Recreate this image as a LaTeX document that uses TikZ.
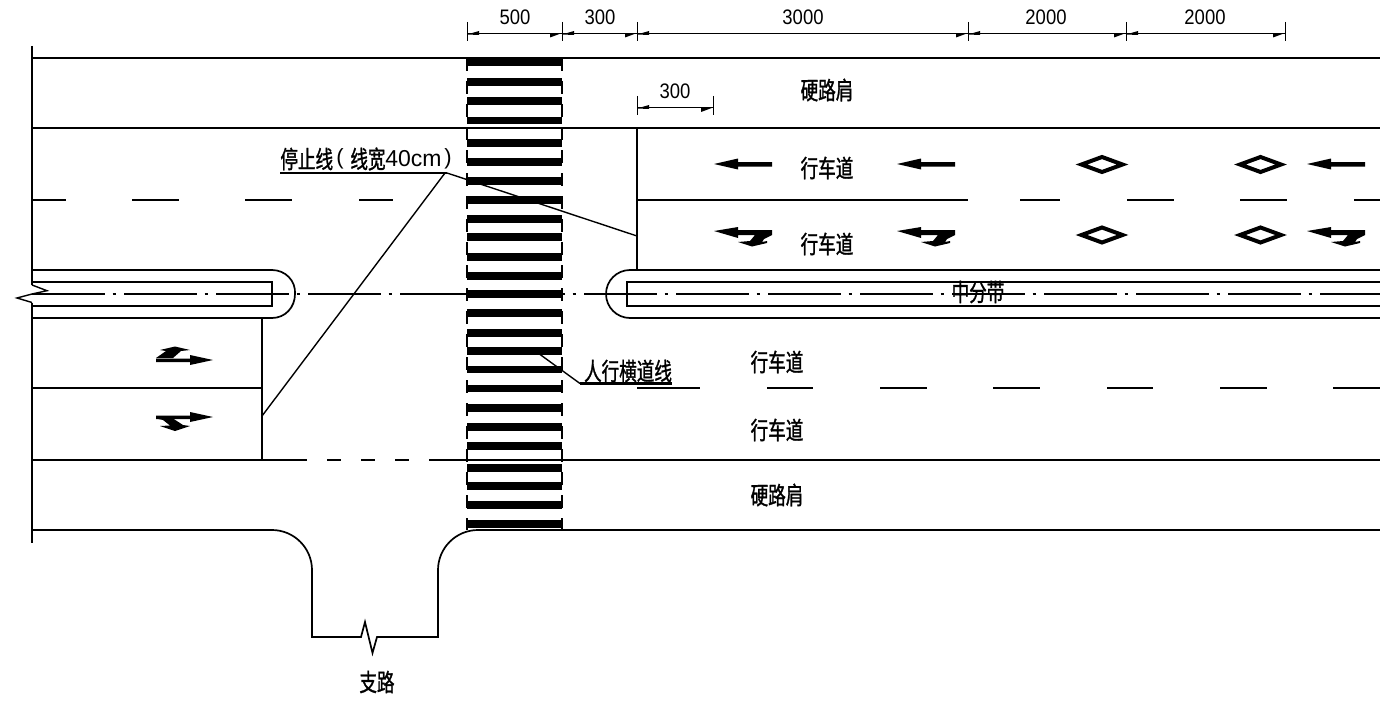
\documentclass[tikz,border=0pt]{standalone}
\usepackage{fontspec}
\setmainfont[FakeStretch=0.88]{Liberation Sans}
\newfontfamily\cjk[FakeStretch=0.72,FakeBold=1.2]{Noto Sans CJK SC}
\newfontfamily\lat{Liberation Sans}
\begin{document}
\begin{tikzpicture}[x=0.5pt,y=-0.5pt,
  ln/.style={line width=0.85pt,black},
  thk/.style={line width=1.1pt,black},
  thinl/.style={line width=0.7pt,black},
  dim/.style={line width=0.5pt,black},
  stripe/.style={line width=3.75pt,black},
  side/.style={line width=0.85pt,black,dash pattern=on 6.5pt off 5pt},
  center/.style={line width=0.6pt,black,dash pattern=on 36.5pt off 3.75pt on 1.75pt off 4pt},
  lab/.style={font=\cjk\fontsize{12.2pt}{12.2pt}\selectfont,inner sep=0pt,text=black},
  num/.style={font=\fontsize{10.5pt}{10.5pt}\selectfont,inner sep=0pt,text=black},
  dia/.style={line width=2pt,black,miter limit=10}]
\useasboundingbox (0,0) rectangle (1380,701);
% ---- arrow macros
\newcommand{\larrow}[2]{\fill[black] (#1,#2) -- ++(24,-5.5) -- ++(0,3.5) -- ++(34,0) -- ++(0,4.5) -- ++(-34,0) -- ++(0,3) -- cycle;}
\newcommand{\ltarrow}[2]{\begin{scope}[shift={(#1,#2)}]\fill[black] (0,0) -- (24,-4) -- (24,-1) -- (58,-1) -- (58,4) -- (50,8) -- (48,11) -- (53,10) -- (53,12) -- (38,15.5) -- (24,11) -- (36,10) -- (41,4) -- (24,4) -- (24,7) -- cycle;\end{scope}}
\newcommand{\rarrowup}[2]{\begin{scope}[shift={(#1,#2)}]\fill[black] (0,0) -- (-23,-5) -- (-23,-1.5) -- (-57,-1.5) -- (-57,2) -- (-23,2) -- (-23,5) -- cycle;
  \fill[black] (-57,-2) -- (-47,-9) -- (-53,-10) -- (-38,-13.5) -- (-23,-10) -- (-32,-9) -- (-40,-2) -- cycle;\end{scope}}
\newcommand{\rarrowdn}[2]{\begin{scope}[shift={(#1,#2)}]\fill[black] (0,0) -- (-23,-5) -- (-23,-1.5) -- (-57,-1.5) -- (-57,2) -- (-23,2) -- (-23,5) -- cycle;
  \fill[black] (-57,1.5) -- (-40,1.5) -- (-30,8) -- (-23,9) -- (-38,14) -- (-53,9) -- (-43,8.5) -- (-50,3) -- cycle;\end{scope}}
\newcommand{\dmd}[2]{\draw[dia] (#1-20.5,#2) -- (#1,#2-7.5) -- (#1+20.5,#2) -- (#1,#2+7.5) -- cycle;}
% ---- road edges
\draw[ln] (32,46) -- (32,285);
\draw[ln] (32,302.5) -- (32,543);
\draw[ln] (32,58) -- (1380,58);
\draw[thk] (32,128) -- (1380,128);
\draw[ln] (32,270) -- (272,270) .. controls (285.25,270) and (296,280.75) .. (295,294) .. controls (295,307.25) and (285.25,318) .. (272,318) -- (32,318);
\draw[ln] (1380,270) -- (630,270) .. controls (616.75,270) and (606,280.75) .. (606,294) .. controls (606,307.25) and (616.75,318) .. (630,318) -- (1380,318);
\draw[thk] (32,282) -- (272,282) -- (272,306) -- (32,306);
\draw[thk] (1380,282) -- (627,282) -- (627,306) -- (1380,306);
% break mark
\draw[thinl] (32,285) -- (47,290.7) -- (32,294) -- (17,298) -- (32,302.5);
% center line
\draw[center] (32,294) -- (1380,294);
% lane lines
\foreach \a/\b in {32/66,132/179,245/292,359/393,638/968,1020/1060,1127/1174,1240/1287,1354/1380} \draw[ln] (\a,200) -- (\b,200);
\foreach \a/\b in {637/700,767/813,880/927,993/1040,1107/1153,1220/1267,1333/1380} \draw[ln] (\a,388) -- (\b,388);
\draw[ln] (32,388) -- (262,388);
% bottom
\draw[thk] (32,460) -- (307,460);
\foreach \a/\b in {327/341,361/375,395/409} \draw[thk] (\a,460) -- (\b,460);
\draw[thk] (429,460) -- (1380,460);
\draw[ln] (32,530) -- (272,530) .. controls (294,530) and (312,548) .. (312,570) -- (312,637) -- (361,637) -- (365,622) -- (372.5,653) -- (377,637) -- (438,637) -- (438,570) .. controls (438,548) and (456,530) .. (478,530) -- (1380,530);
% stop lines
\draw[ln] (637,128) -- (637,270);
\draw[ln] (262,318) -- (262,460);
% crossing stripes
\foreach \y in {62.5,82,101,120.5,143,162,181,200,219,237,257,276,294,313,333,351,369.5,388.5,408,427,446,468,486,505,524}
  \draw[stripe] (467,\y) -- (562,\y);
\foreach \x in {467,562} \draw[side] (\x,58) -- (\x,530);
% leaders
\draw[thinl] (262,416) -- (445,173);
\draw[thk] (280,173) -- (447,173);
\draw[thinl] (447,173) -- (637,236);
\draw[thinl] (538,353) -- (580,383.5);
\draw[thk] (580,383.5) -- (672,383.5);
% dims
\foreach \x in {467,562,637,968,1126,1285} \draw[dim] (\x,22) -- (\x,41);
\draw[dim] (467,33.5) -- (1285,33.5);
\foreach \x in {562,637,968,1126,1285} \fill (\x,33) -- ++(-12,4.5) -- ++(0,-4) -- cycle;
\foreach \x in {467,562,637,968,1126} \fill (\x,34.5) -- ++(12,-3.5) -- ++(0,4) -- cycle;
\draw[dim] (637,96) -- (637,115);
\draw[dim] (713,96) -- (713,115);
\draw[dim] (637,108) -- (713,108);
\fill (637,108.5) -- ++(12,-3.5) -- ++(0,4) -- cycle;
\fill (713,107.5) -- ++(-12,4.5) -- ++(0,-4) -- cycle;
% dim text
\node[num] (d1) at (515,17.5) {500};
\node[num] (d2) at (600,17.5) {300};
\node[num] (d3) at (803,17.5) {3000};
\node[num] (d4) at (1046,17.5) {2000};
\node[num] (d5) at (1205,17.5) {2000};
\node[num] (d6) at (675,91) {300};
% labels
\node[lab] (a) at (827,90) {硬路肩};
\node[lab] (b) at (827,168) {行车道};
\node[lab] (c) at (827,244) {行车道};
\node[lab] (e) at (978,292) {中分带};
\node[lab] (f) at (777,362) {行车道};
\node[lab] (g) at (777,430) {行车道};
\node[lab] (h) at (777,495) {硬路肩};
\node[lab] (i) at (377,682) {支路};
\node[lab] (j) at (628,371) {人行横道线};
\node[lab,anchor=west] (k1) at (280,159) {停止线};
\node[num,anchor=west,font=\lat\fontsize{11pt}{11pt}\selectfont] (k2) at (336,159) {(};
\node[lab,anchor=west] (k3) at (350,159) {线宽};
\node[num,anchor=west,font=\lat\fontsize{11.5pt}{11.5pt}\selectfont] (k4) at (385,159) {40cm};
\node[num,anchor=west,font=\lat\fontsize{11pt}{11pt}\selectfont] (k5) at (444,159) {)};
% arrows
\larrow{714}{164}\larrow{897}{164}\larrow{1307}{164}
\ltarrow{714}{231}\ltarrow{897}{231}\ltarrow{1307}{231}
\rarrowup{213}{360}
\rarrowdn{213}{417}
\dmd{1102}{164.5}\dmd{1260.5}{164.5}\dmd{1102}{235}\dmd{1260.5}{235}
\end{tikzpicture}
\end{document}
